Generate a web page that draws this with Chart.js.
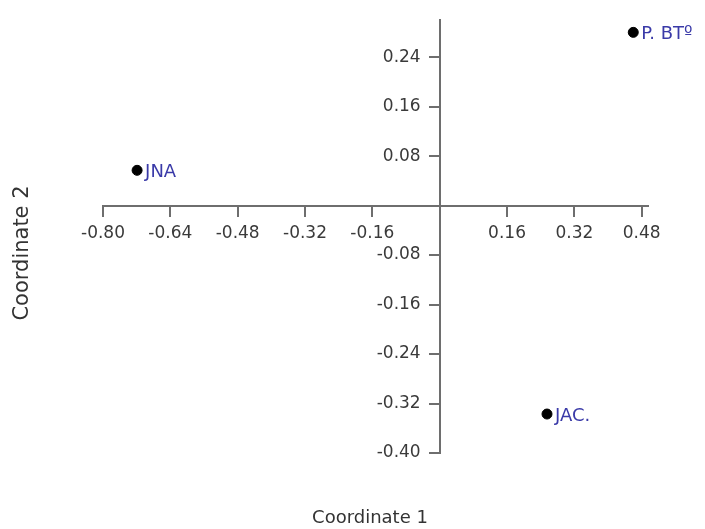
<!DOCTYPE html>
<html><head><meta charset="utf-8">
<script src="https://cdn.jsdelivr.net/npm/chart.js@4/dist/chart.umd.min.js"></script>
<style>html,body{margin:0;padding:0;background:#fff;} #wrap{width:705px;height:529px;position:relative;}</style>
</head><body><div id="wrap"><canvas id="c" width="705" height="529"></canvas></div>
<script>
const pointLabels = ["JNA", "P. BT\u00ba", "JAC."];
const coord1 = [-0.719, 0.460, 0.255];
const coord2 = [0.057, 0.280, -0.337];
const xTicks = [-0.80, -0.64, -0.48, -0.32, -0.16, 0.16, 0.32, 0.48];
const yTicks = [0.24, 0.16, 0.08, -0.08, -0.16, -0.24, -0.32, -0.40];
const xTitle = "Coordinate 1";
const yTitle = "Coordinate 2";

const axisColor = '#6e6e6e';
const tickFont = {family: 'DejaVu Sans', size: 17};

// shift the y-axis tick labels left so they sit beside the tick marks
function shiftYLabels(scale) {
  if (scale._shiftPatched || typeof scale._computeLabelItems !== 'function') return;
  const orig = scale._computeLabelItems;
  scale._computeLabelItems = function (area) {
    const items = orig.call(this, area);
    items.forEach(it => {
      if (it.options && Array.isArray(it.options.translation)) it.options.translation[0] -= 19;
    });
    return items;
  };
  scale._labelItems = null;
  scale._shiftPatched = true;
}

const labelPlugin = {
  id: 'labels',
  afterDatasetsDraw(chart) {
    const ctx = chart.ctx;
    const meta = chart.getDatasetMeta(0);
    ctx.save();
    ctx.font = '18px "DejaVu Sans"';
    ctx.fillStyle = '#3a3aa8';
    ctx.textAlign = 'left';
    ctx.textBaseline = 'middle';
    meta.data.forEach((el, i) => {
      ctx.fillText(pointLabels[i], el.x + 8, el.y + 2);
    });
    ctx.restore();
  },
  afterDraw(chart) {
    const ctx = chart.ctx;
    ctx.save();
    ctx.fillStyle = '#333';
    ctx.font = '18px "DejaVu Sans"';
    ctx.textAlign = 'center';
    ctx.textBaseline = 'middle';
    ctx.fillText(xTitle, 370, 518);
    ctx.translate(23, 253);
    ctx.rotate(-Math.PI / 2);
    ctx.font = '21px "DejaVu Sans"';
    ctx.fillText(yTitle, 0, 0);
    ctx.restore();
  }
};

new Chart(document.getElementById('c'), {
  type: 'scatter',
  data: {
    datasets: [{
      data: coord1.map((x, i) => ({x: x, y: coord2[i]})),
      backgroundColor: '#000',
      borderColor: '#000',
      pointRadius: 5,
      pointHoverRadius: 5
    }]
  },
  options: {
    responsive: false,
    animation: false,
    events: [],
    layout: {padding: {left: 103, right: 57, top: 20, bottom: 76}},
    plugins: {legend: {display: false}, tooltip: {enabled: false}},
    scales: {
      x: {
        type: 'linear', min: -0.8, max: 0.495, position: {y: 0},
        afterBuildTicks: s => { s.ticks = xTicks.map(v => ({value: v})); },
        ticks: {callback: v => Number(v).toFixed(2), font: tickFont, color: '#3a3a3a', padding: 8, autoSkip: false, maxRotation: 0},
        grid: {drawOnChartArea: false, drawTicks: true, tickLength: 10, color: axisColor, lineWidth: 2},
        border: {display: true, color: axisColor, width: 2}
      },
      y: {
        type: 'linear', min: -0.40, max: 0.30, position: {x: 0},
        afterBuildTicks: s => { s.ticks = yTicks.map(v => ({value: v})); },
        afterUpdate: shiftYLabels,
        ticks: {callback: v => Number(v).toFixed(2), font: tickFont, color: '#3a3a3a', padding: 6, autoSkip: false},
        grid: {drawOnChartArea: false, drawTicks: true, tickLength: 10, color: axisColor, lineWidth: 2},
        border: {display: true, color: axisColor, width: 2}
      }
    }
  },
  plugins: [labelPlugin]
});
</script></body></html>
